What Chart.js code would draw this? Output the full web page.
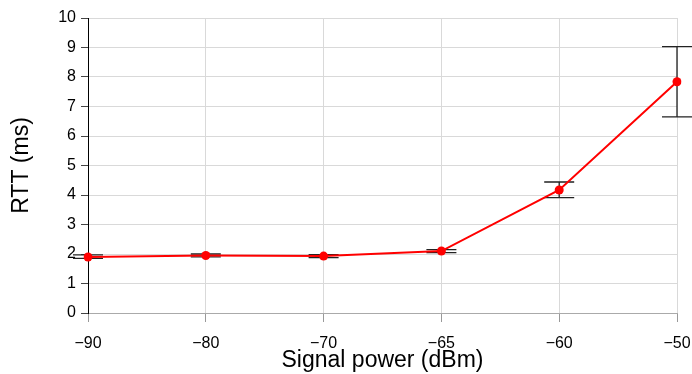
<!DOCTYPE html>
<html>
<head>
<meta charset="utf-8">
<script src="https://cdn.jsdelivr.net/npm/chart.js@4"></script>
<style>
  html, body { margin: 0; padding: 0; background: #fff; }
  #wrap { width: 692px; height: 374px; }
</style>
</head>
<body>
<div id="wrap"><canvas id="myChart" width="692" height="374"></canvas></div>
<script>
// signal power categories (evenly spaced in the original)
var powerLabels = ['\u221290', '\u221280', '\u221270', '\u221265', '\u221260', '\u221250'];
var rttMean = [1.90, 1.95, 1.93, 2.10, 4.17, 7.84];
var rttLow  = [1.85, 1.90, 1.88, 2.05, 3.91, 6.65];
var rttHigh = [1.97, 2.00, 1.98, 2.15, 4.44, 9.03];
var yTicks = [0, 1, 2, 3, 4, 5, 6, 7, 8, 9, 10];

// error bars drawn from the scales
var errorBars = {
    id: 'errorBars',
    beforeDatasetsDraw: function(chart) {
        var ctx = chart.ctx;
        var xs = chart.scales.x, ys = chart.scales.y;
        ctx.save();
        ctx.strokeStyle = '#222';
        ctx.lineWidth = 1.3;
        for (var i = 0; i < rttMean.length; i++) {
            var x = xs.getPixelForValue(i);
            var yl = ys.getPixelForValue(rttLow[i]);
            var yh = ys.getPixelForValue(rttHigh[i]);
            ctx.beginPath();
            ctx.moveTo(x, yl); ctx.lineTo(x, yh);
            ctx.moveTo(x - 15, yl); ctx.lineTo(x + 15, yl);
            ctx.moveTo(x - 15, yh); ctx.lineTo(x + 15, yh);
            ctx.stroke();
        }
        ctx.restore();
    }
};

var ctx = document.getElementById('myChart').getContext('2d');
new Chart(ctx, {
    type: 'line',
    data: {
        labels: powerLabels,
        datasets: [{
            data: rttMean,
            borderColor: '#ff0000',
            backgroundColor: '#ff0000',
            borderWidth: 2,
            pointRadius: 4.5,
            pointBorderWidth: 0,
            tension: 0
        }]
    },
    plugins: [errorBars],
    options: {
        responsive: false,
        animation: false,
        layout: { padding: { top: 18, right: 15, left: 0, bottom: 0 } },
        plugins: {
            legend: { display: false },
            tooltip: { enabled: false }
        },
        scales: {
            x: {
                offset: false,
                afterFit: function(s) { s.height = 61; s.paddingRight = 0; s.paddingLeft = 0; },
                grid: { color: '#d9d9d9', tickColor: '#999', tickLength: 9 },
                border: { color: '#aaa' },
                ticks: { color: '#000', font: { family: 'Liberation Sans', size: 16 }, padding: 12, maxRotation: 0 },
                title: { display: true, text: 'Signal power (dBm)', color: '#000', font: { family: 'Liberation Sans', size: 23 }, padding: { top: 0, bottom: 0 } }
            },
            y: {
                min: 0,
                max: 10,
                afterFit: function(s) { s.width = 88; },
                afterBuildTicks: function(s) { s.ticks = yTicks.map(function(v) { return { value: v }; }); },
                grid: { color: '#d9d9d9', tickColor: '#444', tickLength: 7 },
                border: { color: '#000' },
                ticks: { color: '#000', font: { family: 'Liberation Sans', size: 16 }, padding: 5 },
                title: { display: true, text: 'RTT (ms)', color: '#000', font: { family: 'Liberation Sans', size: 23 }, padding: { top: 8, bottom: 0 } }
            }
        }
    }
});
</script>
</body>
</html>
